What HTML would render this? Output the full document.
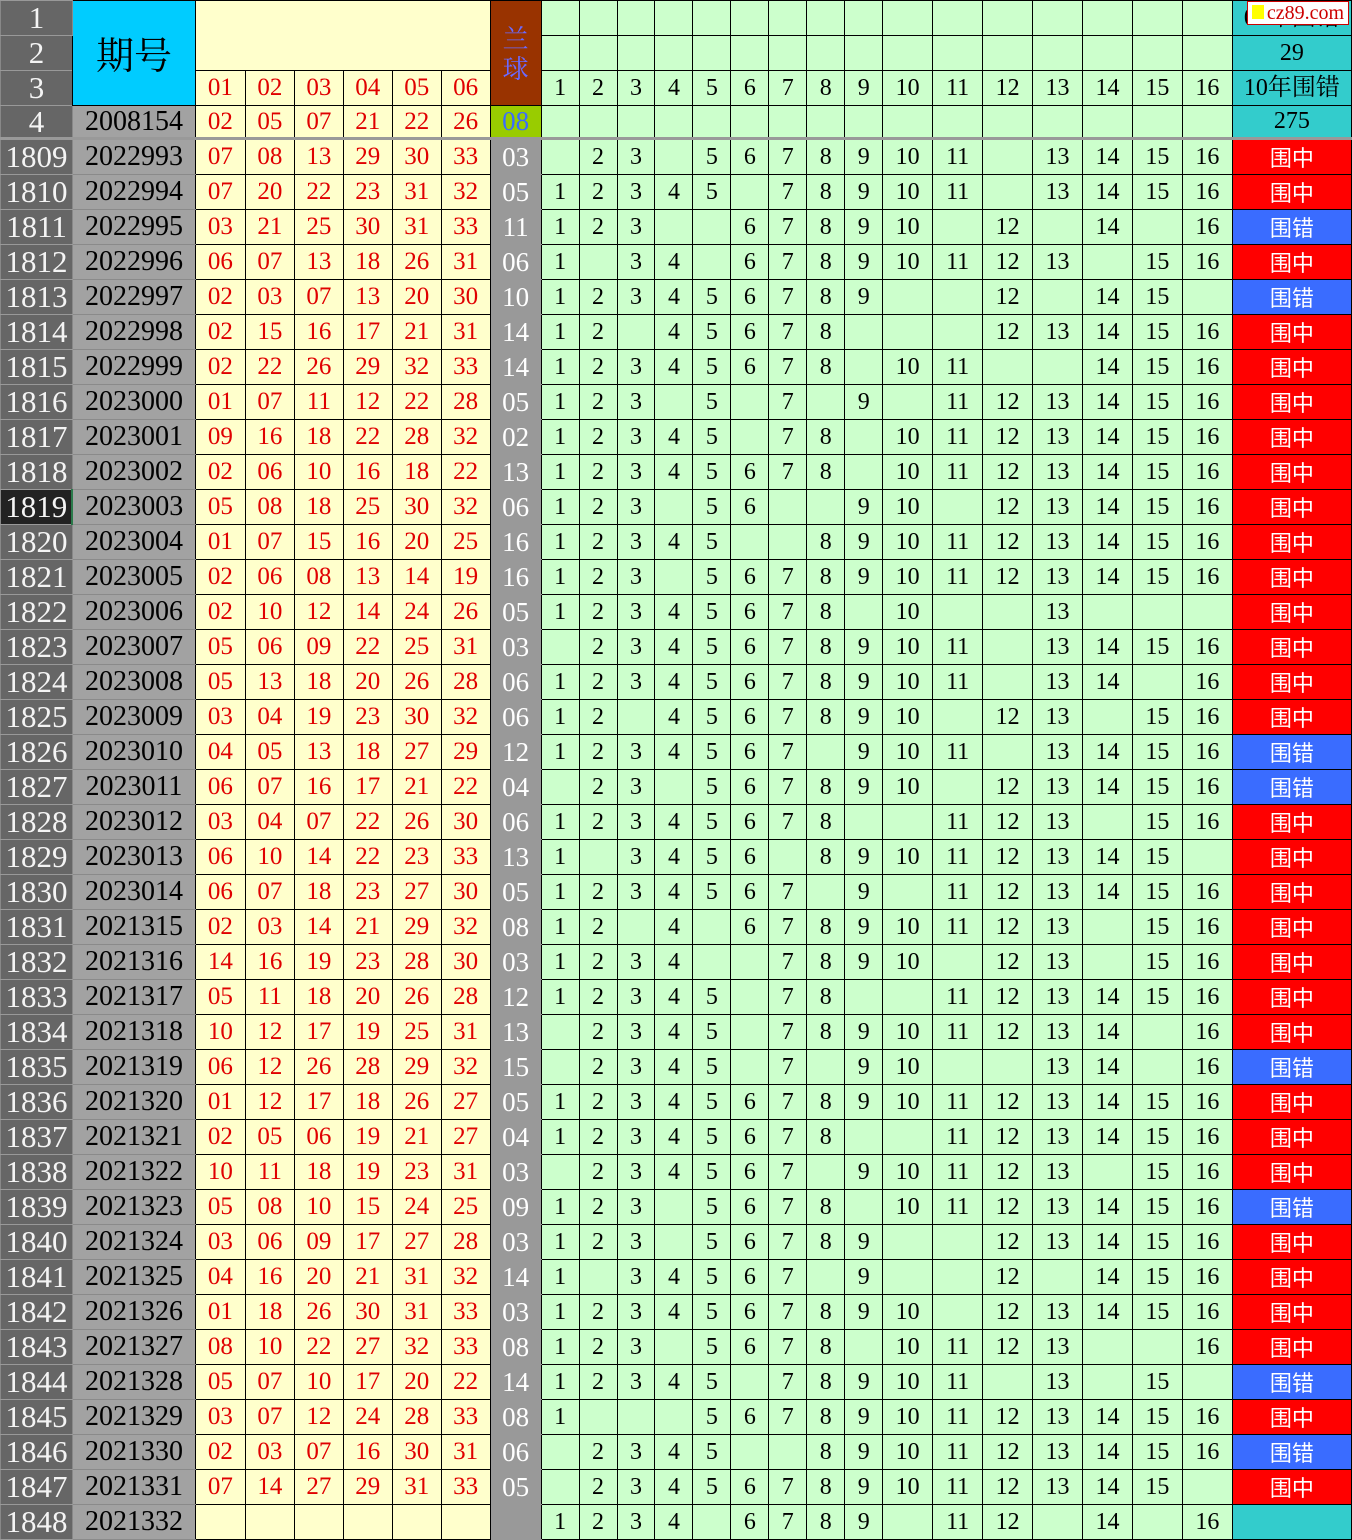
<!DOCTYPE html><html><head><meta charset="utf-8"><style>
body{margin:0;width:1352px;height:1536px;overflow:hidden;background:#fff}
table{border-collapse:collapse;table-layout:fixed;font-family:"Liberation Serif","Noto Serif CJK SC",serif;font-size:24px}
td,th{height:34px;padding:0;border:1px solid #000;text-align:center;white-space:nowrap;overflow:hidden;line-height:34px}
th{background:#666;color:#f4f4f4;font-weight:normal;font-size:31px;border-color:#999 #888}
td.q{background:#a2a2a2;color:#000;font-size:28px;border-color:#8a8a8a #000}
td.y{background:#ffffcc;color:#e00000;font-size:25px}
td.l{background:#999;color:#fff;font-size:27px;border-color:#999 #000}
td.g{background:#ccffcc;color:#000}
td.r{background:#ff0000;color:#fff;font-family:"Noto Sans CJK SC",sans-serif;font-size:22px}
td.b{background:#3a6cff;color:#fff;font-family:"Noto Sans CJK SC",sans-serif;font-size:22px}
td.t{background:#33cccc;color:#000}
tr.s td,tr.s th{border-bottom:3px solid #999;height:31px;line-height:31px}
</style></head><body>
<table>
<colgroup><col style="width:72px"><col style="width:123px"><col style="width:50px"><col style="width:49px"><col style="width:49px"><col style="width:49px"><col style="width:49px"><col style="width:49px"><col style="width:51px"><col style="width:38px"><col style="width:38px"><col style="width:38px"><col style="width:38px"><col style="width:38px"><col style="width:38px"><col style="width:38px"><col style="width:38px"><col style="width:38px"><col style="width:50px"><col style="width:50px"><col style="width:50px"><col style="width:50px"><col style="width:50px"><col style="width:50px"><col style="width:50px"><col style="width:119px"></colgroup>
<tr><th>1</th><td rowspan="3" style="background:#00ccff;font-size:38px;font-family:'Noto Serif CJK SC',serif">期号</td><td class="y" colspan="6" rowspan="2"></td><td rowspan="3" style="background:#993300;color:#6a6aff;font-size:26px;line-height:30px;white-space:normal;font-family:'Noto Serif CJK SC',serif">兰<br>球</td><td class="g"></td><td class="g"></td><td class="g"></td><td class="g"></td><td class="g"></td><td class="g"></td><td class="g"></td><td class="g"></td><td class="g"></td><td class="g"></td><td class="g"></td><td class="g"></td><td class="g"></td><td class="g"></td><td class="g"></td><td class="g"></td><td class="t" style="position:relative">09年围错<span style="position:absolute;right:2px;top:0;background:#fff;border:1px solid #c00;color:#c00;font-size:20px;line-height:22px;padding:0 4px;font-family:'Liberation Serif',serif"><span style="display:inline-block;width:12px;height:14px;background:#ff0;margin-right:3px"></span>cz89.com</span></td></tr>
<tr><th>2</th><td class="g"></td><td class="g"></td><td class="g"></td><td class="g"></td><td class="g"></td><td class="g"></td><td class="g"></td><td class="g"></td><td class="g"></td><td class="g"></td><td class="g"></td><td class="g"></td><td class="g"></td><td class="g"></td><td class="g"></td><td class="g"></td><td class="t">29</td></tr>
<tr><th>3</th><td class="y">01</td><td class="y">02</td><td class="y">03</td><td class="y">04</td><td class="y">05</td><td class="y">06</td><td class="g">1</td><td class="g">2</td><td class="g">3</td><td class="g">4</td><td class="g">5</td><td class="g">6</td><td class="g">7</td><td class="g">8</td><td class="g">9</td><td class="g">10</td><td class="g">11</td><td class="g">12</td><td class="g">13</td><td class="g">14</td><td class="g">15</td><td class="g">16</td><td class="t">10年围错</td></tr>
<tr class="s"><th>4</th><td class="q">2008154</td><td class="y">02</td><td class="y">05</td><td class="y">07</td><td class="y">21</td><td class="y">22</td><td class="y">26</td><td class="l" style="background:#99cc00;color:#3a6cff">08</td><td class="g"></td><td class="g"></td><td class="g"></td><td class="g"></td><td class="g"></td><td class="g"></td><td class="g"></td><td class="g"></td><td class="g"></td><td class="g"></td><td class="g"></td><td class="g"></td><td class="g"></td><td class="g"></td><td class="g"></td><td class="g"></td><td class="t">275</td></tr>
<tr><th>1809</th><td class="q">2022993</td><td class="y">07</td><td class="y">08</td><td class="y">13</td><td class="y">29</td><td class="y">30</td><td class="y">33</td><td class="l">03</td><td class="g"></td><td class="g">2</td><td class="g">3</td><td class="g"></td><td class="g">5</td><td class="g">6</td><td class="g">7</td><td class="g">8</td><td class="g">9</td><td class="g">10</td><td class="g">11</td><td class="g"></td><td class="g">13</td><td class="g">14</td><td class="g">15</td><td class="g">16</td><td class="r">围中</td></tr>
<tr><th>1810</th><td class="q">2022994</td><td class="y">07</td><td class="y">20</td><td class="y">22</td><td class="y">23</td><td class="y">31</td><td class="y">32</td><td class="l">05</td><td class="g">1</td><td class="g">2</td><td class="g">3</td><td class="g">4</td><td class="g">5</td><td class="g"></td><td class="g">7</td><td class="g">8</td><td class="g">9</td><td class="g">10</td><td class="g">11</td><td class="g"></td><td class="g">13</td><td class="g">14</td><td class="g">15</td><td class="g">16</td><td class="r">围中</td></tr>
<tr><th>1811</th><td class="q">2022995</td><td class="y">03</td><td class="y">21</td><td class="y">25</td><td class="y">30</td><td class="y">31</td><td class="y">33</td><td class="l">11</td><td class="g">1</td><td class="g">2</td><td class="g">3</td><td class="g"></td><td class="g"></td><td class="g">6</td><td class="g">7</td><td class="g">8</td><td class="g">9</td><td class="g">10</td><td class="g"></td><td class="g">12</td><td class="g"></td><td class="g">14</td><td class="g"></td><td class="g">16</td><td class="b">围错</td></tr>
<tr><th>1812</th><td class="q">2022996</td><td class="y">06</td><td class="y">07</td><td class="y">13</td><td class="y">18</td><td class="y">26</td><td class="y">31</td><td class="l">06</td><td class="g">1</td><td class="g"></td><td class="g">3</td><td class="g">4</td><td class="g"></td><td class="g">6</td><td class="g">7</td><td class="g">8</td><td class="g">9</td><td class="g">10</td><td class="g">11</td><td class="g">12</td><td class="g">13</td><td class="g"></td><td class="g">15</td><td class="g">16</td><td class="r">围中</td></tr>
<tr><th>1813</th><td class="q">2022997</td><td class="y">02</td><td class="y">03</td><td class="y">07</td><td class="y">13</td><td class="y">20</td><td class="y">30</td><td class="l">10</td><td class="g">1</td><td class="g">2</td><td class="g">3</td><td class="g">4</td><td class="g">5</td><td class="g">6</td><td class="g">7</td><td class="g">8</td><td class="g">9</td><td class="g"></td><td class="g"></td><td class="g">12</td><td class="g"></td><td class="g">14</td><td class="g">15</td><td class="g"></td><td class="b">围错</td></tr>
<tr><th>1814</th><td class="q">2022998</td><td class="y">02</td><td class="y">15</td><td class="y">16</td><td class="y">17</td><td class="y">21</td><td class="y">31</td><td class="l">14</td><td class="g">1</td><td class="g">2</td><td class="g"></td><td class="g">4</td><td class="g">5</td><td class="g">6</td><td class="g">7</td><td class="g">8</td><td class="g"></td><td class="g"></td><td class="g"></td><td class="g">12</td><td class="g">13</td><td class="g">14</td><td class="g">15</td><td class="g">16</td><td class="r">围中</td></tr>
<tr><th>1815</th><td class="q">2022999</td><td class="y">02</td><td class="y">22</td><td class="y">26</td><td class="y">29</td><td class="y">32</td><td class="y">33</td><td class="l">14</td><td class="g">1</td><td class="g">2</td><td class="g">3</td><td class="g">4</td><td class="g">5</td><td class="g">6</td><td class="g">7</td><td class="g">8</td><td class="g"></td><td class="g">10</td><td class="g">11</td><td class="g"></td><td class="g"></td><td class="g">14</td><td class="g">15</td><td class="g">16</td><td class="r">围中</td></tr>
<tr><th>1816</th><td class="q">2023000</td><td class="y">01</td><td class="y">07</td><td class="y">11</td><td class="y">12</td><td class="y">22</td><td class="y">28</td><td class="l">05</td><td class="g">1</td><td class="g">2</td><td class="g">3</td><td class="g"></td><td class="g">5</td><td class="g"></td><td class="g">7</td><td class="g"></td><td class="g">9</td><td class="g"></td><td class="g">11</td><td class="g">12</td><td class="g">13</td><td class="g">14</td><td class="g">15</td><td class="g">16</td><td class="r">围中</td></tr>
<tr><th>1817</th><td class="q">2023001</td><td class="y">09</td><td class="y">16</td><td class="y">18</td><td class="y">22</td><td class="y">28</td><td class="y">32</td><td class="l">02</td><td class="g">1</td><td class="g">2</td><td class="g">3</td><td class="g">4</td><td class="g">5</td><td class="g"></td><td class="g">7</td><td class="g">8</td><td class="g"></td><td class="g">10</td><td class="g">11</td><td class="g">12</td><td class="g">13</td><td class="g">14</td><td class="g">15</td><td class="g">16</td><td class="r">围中</td></tr>
<tr><th>1818</th><td class="q">2023002</td><td class="y">02</td><td class="y">06</td><td class="y">10</td><td class="y">16</td><td class="y">18</td><td class="y">22</td><td class="l">13</td><td class="g">1</td><td class="g">2</td><td class="g">3</td><td class="g">4</td><td class="g">5</td><td class="g">6</td><td class="g">7</td><td class="g">8</td><td class="g"></td><td class="g">10</td><td class="g">11</td><td class="g">12</td><td class="g">13</td><td class="g">14</td><td class="g">15</td><td class="g">16</td><td class="r">围中</td></tr>
<tr><th style="background:#222;border-right:2px solid #2a7a4a">1819</th><td class="q">2023003</td><td class="y">05</td><td class="y">08</td><td class="y">18</td><td class="y">25</td><td class="y">30</td><td class="y">32</td><td class="l">06</td><td class="g">1</td><td class="g">2</td><td class="g">3</td><td class="g"></td><td class="g">5</td><td class="g">6</td><td class="g"></td><td class="g"></td><td class="g">9</td><td class="g">10</td><td class="g"></td><td class="g">12</td><td class="g">13</td><td class="g">14</td><td class="g">15</td><td class="g">16</td><td class="r">围中</td></tr>
<tr><th>1820</th><td class="q">2023004</td><td class="y">01</td><td class="y">07</td><td class="y">15</td><td class="y">16</td><td class="y">20</td><td class="y">25</td><td class="l">16</td><td class="g">1</td><td class="g">2</td><td class="g">3</td><td class="g">4</td><td class="g">5</td><td class="g"></td><td class="g"></td><td class="g">8</td><td class="g">9</td><td class="g">10</td><td class="g">11</td><td class="g">12</td><td class="g">13</td><td class="g">14</td><td class="g">15</td><td class="g">16</td><td class="r">围中</td></tr>
<tr><th>1821</th><td class="q">2023005</td><td class="y">02</td><td class="y">06</td><td class="y">08</td><td class="y">13</td><td class="y">14</td><td class="y">19</td><td class="l">16</td><td class="g">1</td><td class="g">2</td><td class="g">3</td><td class="g"></td><td class="g">5</td><td class="g">6</td><td class="g">7</td><td class="g">8</td><td class="g">9</td><td class="g">10</td><td class="g">11</td><td class="g">12</td><td class="g">13</td><td class="g">14</td><td class="g">15</td><td class="g">16</td><td class="r">围中</td></tr>
<tr><th>1822</th><td class="q">2023006</td><td class="y">02</td><td class="y">10</td><td class="y">12</td><td class="y">14</td><td class="y">24</td><td class="y">26</td><td class="l">05</td><td class="g">1</td><td class="g">2</td><td class="g">3</td><td class="g">4</td><td class="g">5</td><td class="g">6</td><td class="g">7</td><td class="g">8</td><td class="g"></td><td class="g">10</td><td class="g"></td><td class="g"></td><td class="g">13</td><td class="g"></td><td class="g"></td><td class="g"></td><td class="r">围中</td></tr>
<tr><th>1823</th><td class="q">2023007</td><td class="y">05</td><td class="y">06</td><td class="y">09</td><td class="y">22</td><td class="y">25</td><td class="y">31</td><td class="l">03</td><td class="g"></td><td class="g">2</td><td class="g">3</td><td class="g">4</td><td class="g">5</td><td class="g">6</td><td class="g">7</td><td class="g">8</td><td class="g">9</td><td class="g">10</td><td class="g">11</td><td class="g"></td><td class="g">13</td><td class="g">14</td><td class="g">15</td><td class="g">16</td><td class="r">围中</td></tr>
<tr><th>1824</th><td class="q">2023008</td><td class="y">05</td><td class="y">13</td><td class="y">18</td><td class="y">20</td><td class="y">26</td><td class="y">28</td><td class="l">06</td><td class="g">1</td><td class="g">2</td><td class="g">3</td><td class="g">4</td><td class="g">5</td><td class="g">6</td><td class="g">7</td><td class="g">8</td><td class="g">9</td><td class="g">10</td><td class="g">11</td><td class="g"></td><td class="g">13</td><td class="g">14</td><td class="g"></td><td class="g">16</td><td class="r">围中</td></tr>
<tr><th>1825</th><td class="q">2023009</td><td class="y">03</td><td class="y">04</td><td class="y">19</td><td class="y">23</td><td class="y">30</td><td class="y">32</td><td class="l">06</td><td class="g">1</td><td class="g">2</td><td class="g"></td><td class="g">4</td><td class="g">5</td><td class="g">6</td><td class="g">7</td><td class="g">8</td><td class="g">9</td><td class="g">10</td><td class="g"></td><td class="g">12</td><td class="g">13</td><td class="g"></td><td class="g">15</td><td class="g">16</td><td class="r">围中</td></tr>
<tr><th>1826</th><td class="q">2023010</td><td class="y">04</td><td class="y">05</td><td class="y">13</td><td class="y">18</td><td class="y">27</td><td class="y">29</td><td class="l">12</td><td class="g">1</td><td class="g">2</td><td class="g">3</td><td class="g">4</td><td class="g">5</td><td class="g">6</td><td class="g">7</td><td class="g"></td><td class="g">9</td><td class="g">10</td><td class="g">11</td><td class="g"></td><td class="g">13</td><td class="g">14</td><td class="g">15</td><td class="g">16</td><td class="b">围错</td></tr>
<tr><th>1827</th><td class="q">2023011</td><td class="y">06</td><td class="y">07</td><td class="y">16</td><td class="y">17</td><td class="y">21</td><td class="y">22</td><td class="l">04</td><td class="g"></td><td class="g">2</td><td class="g">3</td><td class="g"></td><td class="g">5</td><td class="g">6</td><td class="g">7</td><td class="g">8</td><td class="g">9</td><td class="g">10</td><td class="g"></td><td class="g">12</td><td class="g">13</td><td class="g">14</td><td class="g">15</td><td class="g">16</td><td class="b">围错</td></tr>
<tr><th>1828</th><td class="q">2023012</td><td class="y">03</td><td class="y">04</td><td class="y">07</td><td class="y">22</td><td class="y">26</td><td class="y">30</td><td class="l">06</td><td class="g">1</td><td class="g">2</td><td class="g">3</td><td class="g">4</td><td class="g">5</td><td class="g">6</td><td class="g">7</td><td class="g">8</td><td class="g"></td><td class="g"></td><td class="g">11</td><td class="g">12</td><td class="g">13</td><td class="g"></td><td class="g">15</td><td class="g">16</td><td class="r">围中</td></tr>
<tr><th>1829</th><td class="q">2023013</td><td class="y">06</td><td class="y">10</td><td class="y">14</td><td class="y">22</td><td class="y">23</td><td class="y">33</td><td class="l">13</td><td class="g">1</td><td class="g"></td><td class="g">3</td><td class="g">4</td><td class="g">5</td><td class="g">6</td><td class="g"></td><td class="g">8</td><td class="g">9</td><td class="g">10</td><td class="g">11</td><td class="g">12</td><td class="g">13</td><td class="g">14</td><td class="g">15</td><td class="g"></td><td class="r">围中</td></tr>
<tr><th>1830</th><td class="q">2023014</td><td class="y">06</td><td class="y">07</td><td class="y">18</td><td class="y">23</td><td class="y">27</td><td class="y">30</td><td class="l">05</td><td class="g">1</td><td class="g">2</td><td class="g">3</td><td class="g">4</td><td class="g">5</td><td class="g">6</td><td class="g">7</td><td class="g"></td><td class="g">9</td><td class="g"></td><td class="g">11</td><td class="g">12</td><td class="g">13</td><td class="g">14</td><td class="g">15</td><td class="g">16</td><td class="r">围中</td></tr>
<tr><th>1831</th><td class="q">2021315</td><td class="y">02</td><td class="y">03</td><td class="y">14</td><td class="y">21</td><td class="y">29</td><td class="y">32</td><td class="l">08</td><td class="g">1</td><td class="g">2</td><td class="g"></td><td class="g">4</td><td class="g"></td><td class="g">6</td><td class="g">7</td><td class="g">8</td><td class="g">9</td><td class="g">10</td><td class="g">11</td><td class="g">12</td><td class="g">13</td><td class="g"></td><td class="g">15</td><td class="g">16</td><td class="r">围中</td></tr>
<tr><th>1832</th><td class="q">2021316</td><td class="y">14</td><td class="y">16</td><td class="y">19</td><td class="y">23</td><td class="y">28</td><td class="y">30</td><td class="l">03</td><td class="g">1</td><td class="g">2</td><td class="g">3</td><td class="g">4</td><td class="g"></td><td class="g"></td><td class="g">7</td><td class="g">8</td><td class="g">9</td><td class="g">10</td><td class="g"></td><td class="g">12</td><td class="g">13</td><td class="g"></td><td class="g">15</td><td class="g">16</td><td class="r">围中</td></tr>
<tr><th>1833</th><td class="q">2021317</td><td class="y">05</td><td class="y">11</td><td class="y">18</td><td class="y">20</td><td class="y">26</td><td class="y">28</td><td class="l">12</td><td class="g">1</td><td class="g">2</td><td class="g">3</td><td class="g">4</td><td class="g">5</td><td class="g"></td><td class="g">7</td><td class="g">8</td><td class="g"></td><td class="g"></td><td class="g">11</td><td class="g">12</td><td class="g">13</td><td class="g">14</td><td class="g">15</td><td class="g">16</td><td class="r">围中</td></tr>
<tr><th>1834</th><td class="q">2021318</td><td class="y">10</td><td class="y">12</td><td class="y">17</td><td class="y">19</td><td class="y">25</td><td class="y">31</td><td class="l">13</td><td class="g"></td><td class="g">2</td><td class="g">3</td><td class="g">4</td><td class="g">5</td><td class="g"></td><td class="g">7</td><td class="g">8</td><td class="g">9</td><td class="g">10</td><td class="g">11</td><td class="g">12</td><td class="g">13</td><td class="g">14</td><td class="g"></td><td class="g">16</td><td class="r">围中</td></tr>
<tr><th>1835</th><td class="q">2021319</td><td class="y">06</td><td class="y">12</td><td class="y">26</td><td class="y">28</td><td class="y">29</td><td class="y">32</td><td class="l">15</td><td class="g"></td><td class="g">2</td><td class="g">3</td><td class="g">4</td><td class="g">5</td><td class="g"></td><td class="g">7</td><td class="g"></td><td class="g">9</td><td class="g">10</td><td class="g"></td><td class="g"></td><td class="g">13</td><td class="g">14</td><td class="g"></td><td class="g">16</td><td class="b">围错</td></tr>
<tr><th>1836</th><td class="q">2021320</td><td class="y">01</td><td class="y">12</td><td class="y">17</td><td class="y">18</td><td class="y">26</td><td class="y">27</td><td class="l">05</td><td class="g">1</td><td class="g">2</td><td class="g">3</td><td class="g">4</td><td class="g">5</td><td class="g">6</td><td class="g">7</td><td class="g">8</td><td class="g">9</td><td class="g">10</td><td class="g">11</td><td class="g">12</td><td class="g">13</td><td class="g">14</td><td class="g">15</td><td class="g">16</td><td class="r">围中</td></tr>
<tr><th>1837</th><td class="q">2021321</td><td class="y">02</td><td class="y">05</td><td class="y">06</td><td class="y">19</td><td class="y">21</td><td class="y">27</td><td class="l">04</td><td class="g">1</td><td class="g">2</td><td class="g">3</td><td class="g">4</td><td class="g">5</td><td class="g">6</td><td class="g">7</td><td class="g">8</td><td class="g"></td><td class="g"></td><td class="g">11</td><td class="g">12</td><td class="g">13</td><td class="g">14</td><td class="g">15</td><td class="g">16</td><td class="r">围中</td></tr>
<tr><th>1838</th><td class="q">2021322</td><td class="y">10</td><td class="y">11</td><td class="y">18</td><td class="y">19</td><td class="y">23</td><td class="y">31</td><td class="l">03</td><td class="g"></td><td class="g">2</td><td class="g">3</td><td class="g">4</td><td class="g">5</td><td class="g">6</td><td class="g">7</td><td class="g"></td><td class="g">9</td><td class="g">10</td><td class="g">11</td><td class="g">12</td><td class="g">13</td><td class="g"></td><td class="g">15</td><td class="g">16</td><td class="r">围中</td></tr>
<tr><th>1839</th><td class="q">2021323</td><td class="y">05</td><td class="y">08</td><td class="y">10</td><td class="y">15</td><td class="y">24</td><td class="y">25</td><td class="l">09</td><td class="g">1</td><td class="g">2</td><td class="g">3</td><td class="g"></td><td class="g">5</td><td class="g">6</td><td class="g">7</td><td class="g">8</td><td class="g"></td><td class="g">10</td><td class="g">11</td><td class="g">12</td><td class="g">13</td><td class="g">14</td><td class="g">15</td><td class="g">16</td><td class="b">围错</td></tr>
<tr><th>1840</th><td class="q">2021324</td><td class="y">03</td><td class="y">06</td><td class="y">09</td><td class="y">17</td><td class="y">27</td><td class="y">28</td><td class="l">03</td><td class="g">1</td><td class="g">2</td><td class="g">3</td><td class="g"></td><td class="g">5</td><td class="g">6</td><td class="g">7</td><td class="g">8</td><td class="g">9</td><td class="g"></td><td class="g"></td><td class="g">12</td><td class="g">13</td><td class="g">14</td><td class="g">15</td><td class="g">16</td><td class="r">围中</td></tr>
<tr><th>1841</th><td class="q">2021325</td><td class="y">04</td><td class="y">16</td><td class="y">20</td><td class="y">21</td><td class="y">31</td><td class="y">32</td><td class="l">14</td><td class="g">1</td><td class="g"></td><td class="g">3</td><td class="g">4</td><td class="g">5</td><td class="g">6</td><td class="g">7</td><td class="g"></td><td class="g">9</td><td class="g"></td><td class="g"></td><td class="g">12</td><td class="g"></td><td class="g">14</td><td class="g">15</td><td class="g">16</td><td class="r">围中</td></tr>
<tr><th>1842</th><td class="q">2021326</td><td class="y">01</td><td class="y">18</td><td class="y">26</td><td class="y">30</td><td class="y">31</td><td class="y">33</td><td class="l">03</td><td class="g">1</td><td class="g">2</td><td class="g">3</td><td class="g">4</td><td class="g">5</td><td class="g">6</td><td class="g">7</td><td class="g">8</td><td class="g">9</td><td class="g">10</td><td class="g"></td><td class="g">12</td><td class="g">13</td><td class="g">14</td><td class="g">15</td><td class="g">16</td><td class="r">围中</td></tr>
<tr><th>1843</th><td class="q">2021327</td><td class="y">08</td><td class="y">10</td><td class="y">22</td><td class="y">27</td><td class="y">32</td><td class="y">33</td><td class="l">08</td><td class="g">1</td><td class="g">2</td><td class="g">3</td><td class="g"></td><td class="g">5</td><td class="g">6</td><td class="g">7</td><td class="g">8</td><td class="g"></td><td class="g">10</td><td class="g">11</td><td class="g">12</td><td class="g">13</td><td class="g"></td><td class="g"></td><td class="g">16</td><td class="r">围中</td></tr>
<tr><th>1844</th><td class="q">2021328</td><td class="y">05</td><td class="y">07</td><td class="y">10</td><td class="y">17</td><td class="y">20</td><td class="y">22</td><td class="l">14</td><td class="g">1</td><td class="g">2</td><td class="g">3</td><td class="g">4</td><td class="g">5</td><td class="g"></td><td class="g">7</td><td class="g">8</td><td class="g">9</td><td class="g">10</td><td class="g">11</td><td class="g"></td><td class="g">13</td><td class="g"></td><td class="g">15</td><td class="g"></td><td class="b">围错</td></tr>
<tr><th>1845</th><td class="q">2021329</td><td class="y">03</td><td class="y">07</td><td class="y">12</td><td class="y">24</td><td class="y">28</td><td class="y">33</td><td class="l">08</td><td class="g">1</td><td class="g"></td><td class="g"></td><td class="g"></td><td class="g">5</td><td class="g">6</td><td class="g">7</td><td class="g">8</td><td class="g">9</td><td class="g">10</td><td class="g">11</td><td class="g">12</td><td class="g">13</td><td class="g">14</td><td class="g">15</td><td class="g">16</td><td class="r">围中</td></tr>
<tr><th>1846</th><td class="q">2021330</td><td class="y">02</td><td class="y">03</td><td class="y">07</td><td class="y">16</td><td class="y">30</td><td class="y">31</td><td class="l">06</td><td class="g"></td><td class="g">2</td><td class="g">3</td><td class="g">4</td><td class="g">5</td><td class="g"></td><td class="g"></td><td class="g">8</td><td class="g">9</td><td class="g">10</td><td class="g">11</td><td class="g">12</td><td class="g">13</td><td class="g">14</td><td class="g">15</td><td class="g">16</td><td class="b">围错</td></tr>
<tr><th>1847</th><td class="q">2021331</td><td class="y">07</td><td class="y">14</td><td class="y">27</td><td class="y">29</td><td class="y">31</td><td class="y">33</td><td class="l">05</td><td class="g"></td><td class="g">2</td><td class="g">3</td><td class="g">4</td><td class="g">5</td><td class="g">6</td><td class="g">7</td><td class="g">8</td><td class="g">9</td><td class="g">10</td><td class="g">11</td><td class="g">12</td><td class="g">13</td><td class="g">14</td><td class="g">15</td><td class="g"></td><td class="r">围中</td></tr>
<tr><th>1848</th><td class="q">2021332</td><td class="y"></td><td class="y"></td><td class="y"></td><td class="y"></td><td class="y"></td><td class="y"></td><td class="l"></td><td class="g">1</td><td class="g">2</td><td class="g">3</td><td class="g">4</td><td class="g"></td><td class="g">6</td><td class="g">7</td><td class="g">8</td><td class="g">9</td><td class="g"></td><td class="g">11</td><td class="g">12</td><td class="g"></td><td class="g">14</td><td class="g"></td><td class="g">16</td><td class="t"></td></tr>
</table>
</body></html>
